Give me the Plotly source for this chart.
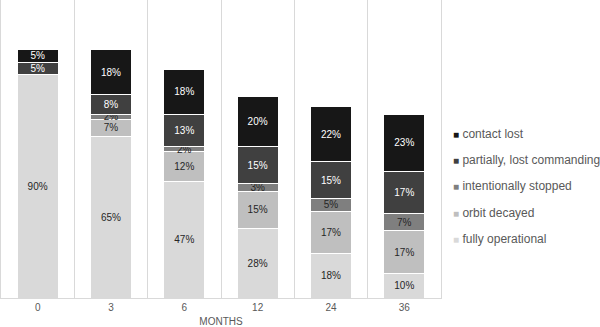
import plotly.graph_objects as go

months = ["0", "3", "6", "12", "24", "36"]
fully_operational = [90, 65, 47, 28, 18, 10]
orbit_decayed = [0, 7, 12, 15, 17, 17]
intentionally_stopped = [0, 2, 2, 3, 5, 7]
partially_lost = [5, 8, 13, 15, 15, 17]
contact_lost = [5, 18, 18, 20, 22, 23]

series = [
    ("fully operational", fully_operational, "#d9d9d9", "#262626"),
    ("orbit decayed", orbit_decayed, "#bfbfbf", "#262626"),
    ("intentionally stopped", intentionally_stopped, "#7f7f7f", "#262626"),
    ("partially, lost commanding", partially_lost, "#404040", "#ffffff"),
    ("contact lost", contact_lost, "#171717", "#ffffff"),
]

W, H = 600, 327
L, R, T, B = 1, 159, 0, 29

fig = go.Figure()
for name, vals, color, tcolor in series:
    fig.add_trace(go.Bar(
        x=months, y=vals, name=name,
        marker=dict(color=color, line=dict(color="#ffffff", width=1)),
        text=[f"{v}%" if v else "" for v in vals],
        textposition="inside", insidetextanchor="middle", textangle=0,
        constraintext="none",
        textfont=dict(family="Liberation Sans, Arial", size=10, color=tcolor),
        showlegend=False,
    ))

fig.update_layout(
    width=W, height=H, barmode="stack", bargap=0.44,
    margin=dict(l=L, r=R, t=T, b=B, autoexpand=False),
    plot_bgcolor="#ffffff", paper_bgcolor="#ffffff",
    font=dict(family="Liberation Sans, Arial", size=10, color="#595959"),
    xaxis=dict(
        type="category", tickson="boundaries", ticks="", showgrid=True,
        gridcolor="#d9d9d9", gridwidth=1, showline=True, linecolor="#d9d9d9",
        tickfont=dict(size=10, color="#595959"), automargin=False,
        title=dict(text="MONTHS", font=dict(size=10, color="#595959"), standoff=6),
    ),
    yaxis=dict(range=[0, 120], showticklabels=False, showgrid=False, automargin=False,
               zeroline=False, showline=True, mirror=True, linecolor="#d9d9d9"),
)

pw = W - L - R
ph = H - T - B
legend_y = [134, 160, 186, 213, 239]
for (name, vals, color, tcolor), py in zip(reversed(series), legend_y):
    fig.add_annotation(
        xref="paper", yref="paper",
        x=(452 - L) / pw, y=1 - (py - T) / ph,
        xanchor="left", yanchor="middle", showarrow=False, borderpad=0,
        text=f"<span style='color:{color};font-size:10px'>■</span> {name}",
        font=dict(family="Liberation Sans, Arial", size=12, color="#595959"),
    )

fig.write_html("out.html", config={"displayModeBar": False},
               post_script="document.body.style.margin='0';")
